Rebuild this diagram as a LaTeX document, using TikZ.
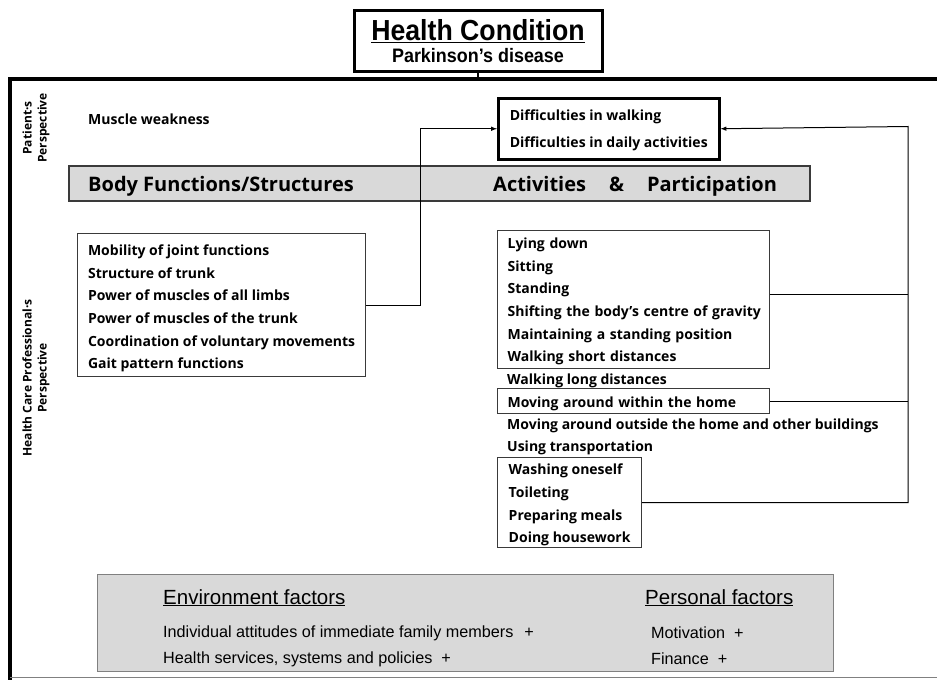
\documentclass[tikz,border=0pt]{standalone}
\usepackage{fontspec}
\setmainfont{Open Sans}
\newfontfamily\titlesans[FakeStretch=0.92]{Liberation Sans}
\newfontfamily\plainsans{Liberation Sans}
\usetikzlibrary{arrows.meta,positioning}

\definecolor{bandgray}{HTML}{D9D9D9}
\definecolor{edgegray}{HTML}{3A3A3A}

% struts that set the room above the first line and below the last one
\newcommand{\headroom}[1]{\rule{0pt}{#1pt}}
\newcommand{\footroom}[1]{\rule[-#1pt]{0pt}{#1pt}}

\tikzset{
  heavybox/.style={draw, line width=3pt},
  listbox/.style={draw=edgegray, line width=1.2pt, align=left, inner xsep=9pt, inner ysep=0pt,
    anchor=north west, font=\bfseries\fontsize{14}{22.6}\selectfont},
  item/.style={anchor=base west, inner sep=0pt, font=\bfseries\fontsize{14}{22.6}\selectfont},
  heading/.style={anchor=base west, inner sep=0pt, font=\bfseries\fontsize{20}{20}\selectfont},
  sideview/.style={rotate=90, align=center, font=\bfseries\fontsize{12}{15}\selectfont},
  factorhead/.style={anchor=base west, inner sep=0pt, font=\plainsans\fontsize{20.5}{20.5}\selectfont},
  factor/.style={anchor=base west, inner sep=0pt, font=\plainsans\fontsize{16.2}{16.2}\selectfont},
}

\begin{document}
\begin{tikzpicture}[x=1pt, y=-1pt]
\useasboundingbox (0,0) rectangle (937,680);

% outer frame
\draw [line width=3.5pt] (937,79) -- (10,79) -- (10,680);
\draw [gray, line width=1pt] (10,677.5) -- (937,677.5);

\node [heavybox, minimum width=248, minimum height=61, align=center, inner sep=0pt,
  font=\titlesans\bfseries\fontsize{19.5}{22}\selectfont] (condition) at (478,41)
  {{\fontsize{29}{22}\selectfont\underline{Health Condition}}\\Parkinson’s disease};
\coordinate (frametop) at (478,79);
\draw [line width=1.5pt] (condition) -- (frametop);

\node [sideview] (patientview) at (36,128) {Patient·s\\Perspective};
\node [sideview] (clinicview) at (36,378) {Health Care Professional·s\\Perspective};

\node [item] (weakness) at (88,124) {Muscle weakness};

\node [heavybox, line width=2.5pt, minimum width=221, align=left, inner sep=0pt, anchor=north west,
  font=\bfseries\fontsize{14}{27}\selectfont] (difficulty) at (497,97)
  {\headroom{22}Difficulties in walking\\Difficulties in daily activities\footroom{12}};

\node [draw=edgegray, fill=bandgray, line width=1.2pt, minimum width=741, minimum height=35] (band) at (439.5,183.5) {};
\node [heading] (bodyhead) at (88,191) {Body Functions/Structures};
\node [heading] (activityhead) at (493,191) {Activities\hspace{23pt}\&\hspace{23pt}Participation};

\node [listbox, minimum width=288] (bodyfn) at (77,233)
  {\headroom{22}Mobility of joint functions\\Structure of trunk\\Power of muscles of all limbs\\
   Power of muscles of the trunk\\Coordination of voluntary movements\\Gait pattern functions\footroom{8}};

\node [listbox, minimum width=272, text width=252, inner xsep=10pt] (mobility) at (497,230)
  {\headroom{18}Lying down\\Sitting\\Standing\\\mbox{Shifting the body’s centre of gravity}\\
   Maintaining a standing position\\Walking short distances\footroom{6.5}};
\node [item] (longwalk) at (507,384) {Walking long distances};
\node [listbox, minimum width=272, text width=252, inner xsep=10pt] (homemove) at (497,388)
  {\headroom{18.5}Moving around within the home\footroom{6.5}};
\node [item] (outside) at (507,429) {Moving around outside the home and other buildings};
\node [item] (transport) at (507,451.7) {Using transportation};
\node [listbox, minimum width=144] (selfcare) at (497,457)
  {\headroom{17.3}Washing oneself\\Toileting\\Preparing meals\\Doing housework\footroom{5}};

\draw [-latex, line width=1pt] (bodyfn.east) -- ++(54,0) |- (difficulty.west);

\coordinate (bus) at (908,126.5);
\draw [-latex, line width=1pt] (selfcare.east) -| (bus) -- (difficulty.east);
\draw [line width=1pt] ([yshift=4.5pt]mobility.east) -- ([yshift=4.5pt]mobility.east -| bus);
\draw [line width=1pt] (homemove.east) -- (homemove.east -| bus);

\node [draw=gray, fill=bandgray, line width=1pt, minimum width=736, minimum height=97] (context) at (465,622.5) {};
\node [factorhead] (envhead) at (163,604) {\underline{Environment factors}};
\node [factorhead] (personhead) at (645,604) {\underline{Personal factors}};
\node [factor] (family) at (163,637) {Individual attitudes of immediate family members\hspace{11pt}+};
\node [factor] (services) at (163,663) {Health services, systems and policies\hspace{9pt}+};
\node [factor] (motivation) at (651,638) {Motivation\hspace{9pt}+};
\node [factor] (finance) at (651,664) {Finance\hspace{9pt}+};

\end{tikzpicture}
\end{document}
